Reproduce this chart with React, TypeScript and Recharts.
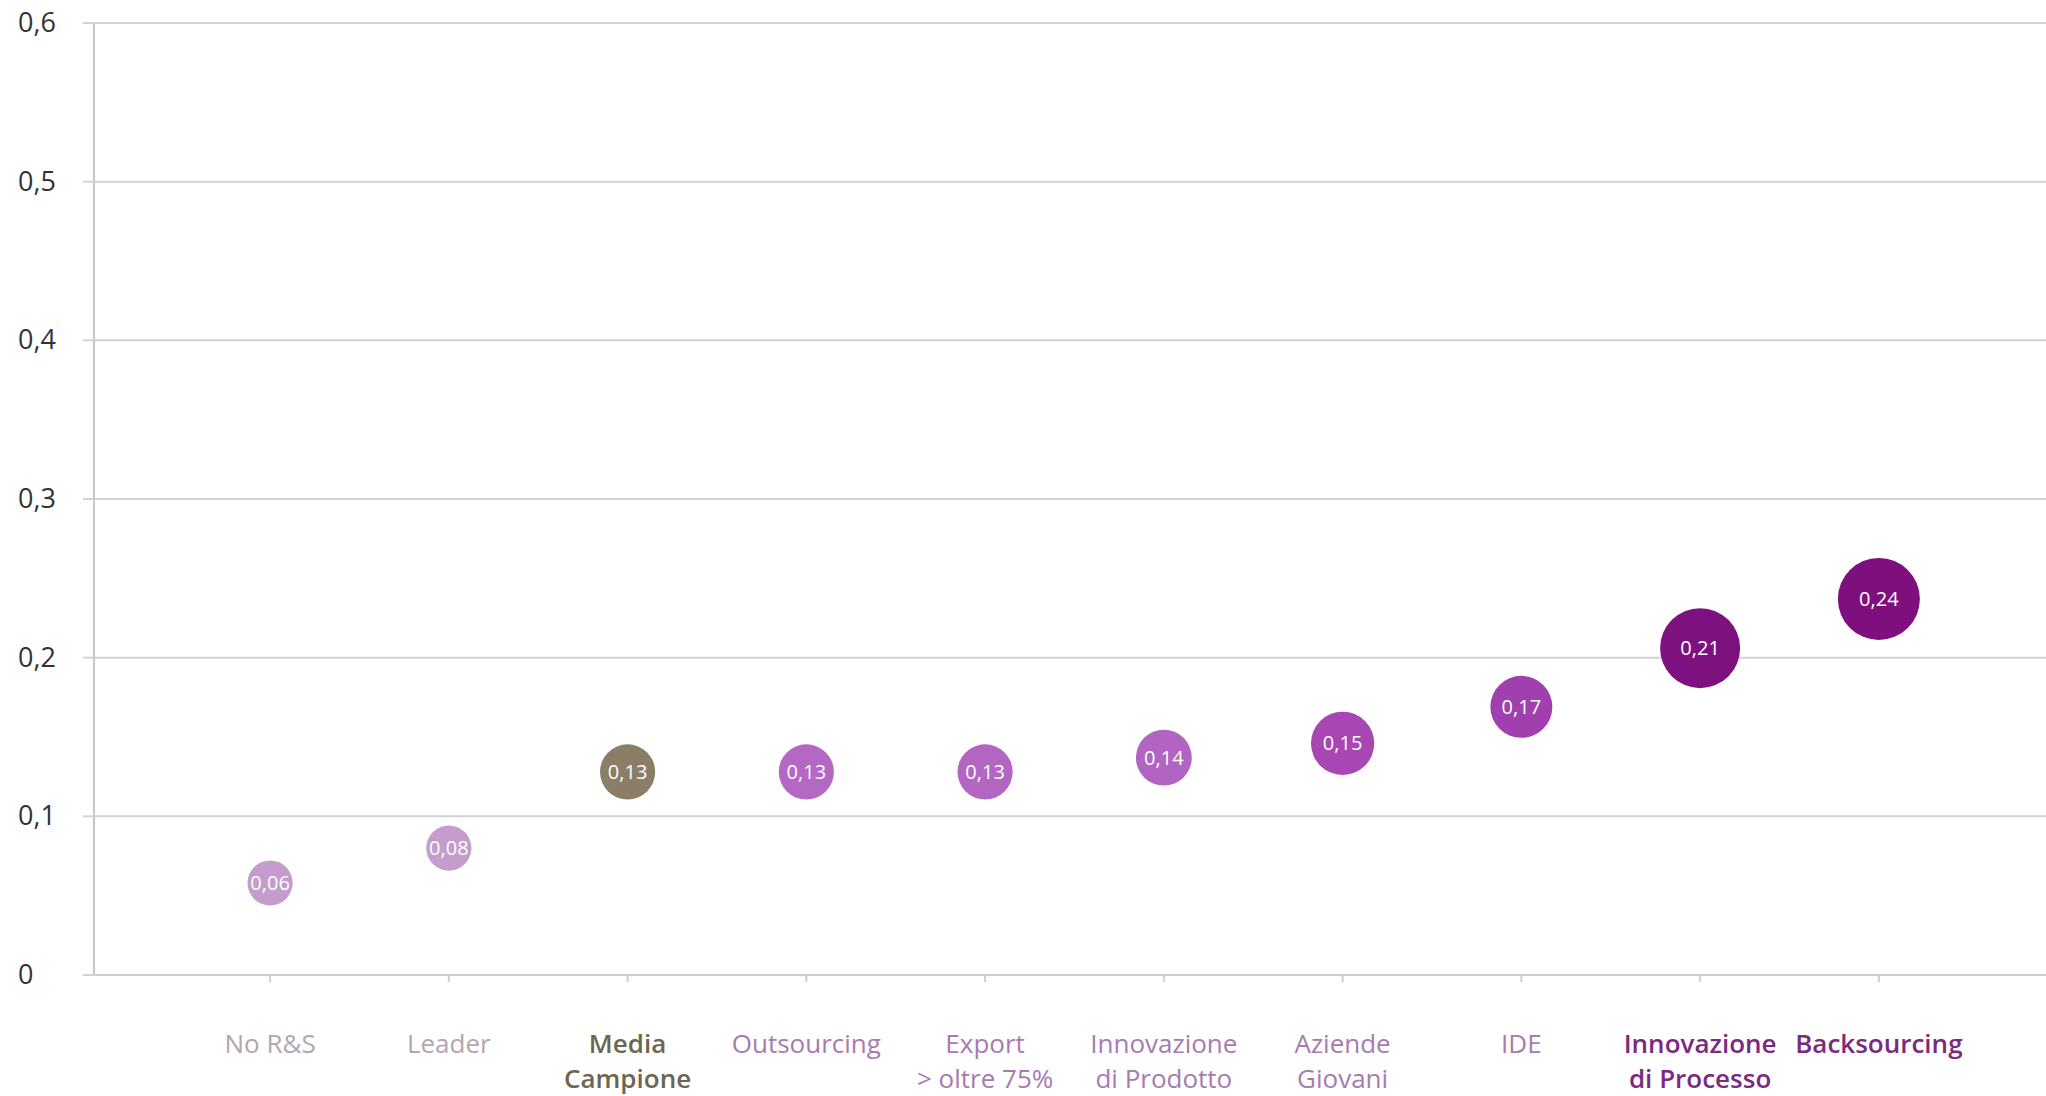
// Bubble chart: average value per company group, bubble size = group weight.

import {
  ScatterChart, Scatter, XAxis, YAxis, ZAxis, CartesianGrid, Cell, LabelList,
} from "recharts";

const categories = [
  "No R&S",
  "Leader",
  "Media\nCampione",
  "Outsourcing",
  "Export\n> oltre 75%",
  "Innovazione\ndi Prodotto",
  "Aziende\nGiovani",
  "IDE",
  "Innovazione\ndi Processo",
  "Backsourcing",
];
const values = [0.058, 0.08, 0.128, 0.128, 0.128, 0.137, 0.146, 0.169, 0.206, 0.237];
const weights = [5.1, 5.1, 7.6, 7.6, 7.6, 7.8, 10.0, 9.6, 16.0, 16.8];
const yTicks = [0, 0.1, 0.2, 0.3, 0.4, 0.5, 0.6];

const bubbleColors = [
  "#c59dcd", "#c59dcd", "#8a7e66", "#b468c3", "#b266c2",
  "#b264c2", "#a846b4", "#a03fad", "#7d1180", "#7f0f7e",
];
const labelColors = [
  "#b3a4b3", "#b3a4b3", "#6d6552", "#a77ab0", "#a77ab0",
  "#a77ab0", "#a77ab0", "#a77ab0", "#7a2a80", "#7a2a80",
];
const labelWeights = [400, 400, 600, 400, 400, 400, 400, 400, 600, 600];

const FONT = "'Open Sans', sans-serif";

const data = categories.map((_, i) => ({ x: i + 1, y: values[i], z: weights[i] }));

function fmt(v: number, digits?: number) {
  const s = digits === undefined ? String(v) : v.toFixed(digits);
  return s.replace(".", ",");
}

function YTick(props: any) {
  const { y, payload } = props;
  return (
    <text x={18} y={y} dy={9} textAnchor="start" fontSize={27} fill="#333" fontFamily={FONT}>
      {fmt(payload.value)}
    </text>
  );
}

function XTick(props: any) {
  const { x, y, payload } = props;
  const i = Math.round(payload.value) - 1;
  const lines = (categories[i] || "").split("\n");
  return (
    <text
      x={x}
      y={y + 69}
      textAnchor="middle"
      fontSize={26}
      fill={labelColors[i]}
      fontWeight={labelWeights[i]}
      fontFamily={FONT}
    >
      {lines.map((l, k) => (
        <tspan key={k} x={x} dy={k === 0 ? 0 : 35}>{l}</tspan>
      ))}
    </text>
  );
}

export default function App() {
  return (
    <div style={{ position: "absolute", left: 0, top: 0, background: "#fff" }}>
      <ScatterChart width={2046} height={1096} margin={{ top: 23, right: 0, bottom: 0, left: 0 }}>
        <CartesianGrid vertical={false} stroke="#d2d2d2" strokeWidth={2} />
        <XAxis
          type="number"
          dataKey="x"
          domain={[0.015, 10.935]}
          ticks={[1, 2, 3, 4, 5, 6, 7, 8, 9, 10]}
          interval={0}
          height={121}
          tick={<XTick />}
          tickSize={7}
          tickLine={{ stroke: "#cfcfcf", strokeWidth: 2 }}
          axisLine={{ stroke: "#cfcfcf", strokeWidth: 2 }}
        />
        <YAxis
          type="number"
          dataKey="y"
          domain={[0, 0.6]}
          ticks={yTicks}
          interval={0}
          width={94}
          tick={<YTick />}
          tickSize={11}
          tickLine={{ stroke: "#d2d2d2", strokeWidth: 2 }}
          axisLine={{ stroke: "#c6c6c6", strokeWidth: 2 }}
        />
        <ZAxis type="number" dataKey="z" domain={[5.06, 16.8]} range={[1590, 5281]} />
        <Scatter data={data} isAnimationActive={false}>
          {data.map((_, i) => (
            <Cell key={i} fill={bubbleColors[i]} />
          ))}
          <LabelList
            dataKey="y"
            position="center"
            formatter={(v: any) => fmt(Number(v), 2)}
            fill="#ffffff"
            fontSize={20}
            fontFamily={FONT}
          />
        </Scatter>
      </ScatterChart>
    </div>
  );
}
